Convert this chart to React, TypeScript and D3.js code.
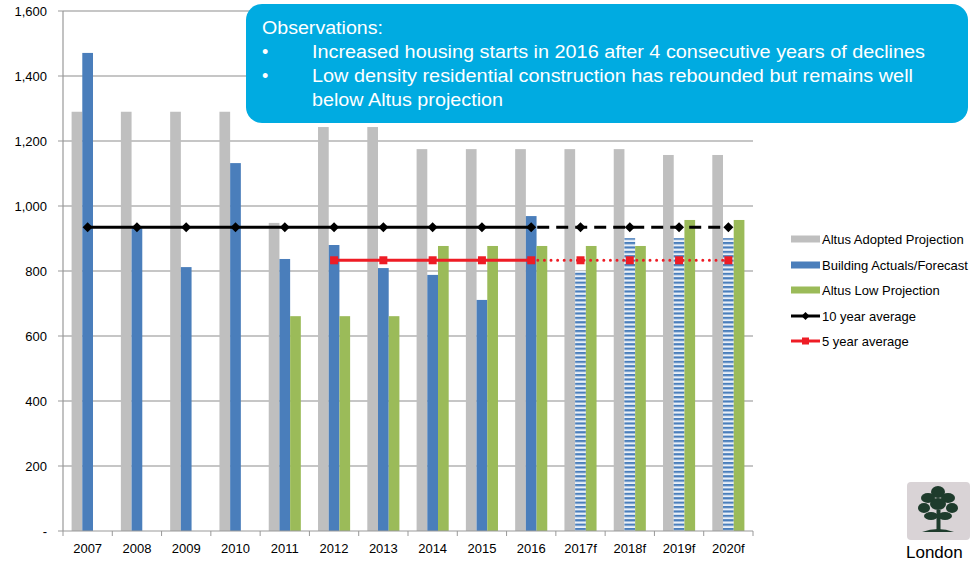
import React from "react";
import * as d3 from "d3";

const categories = ["2007","2008","2009","2010","2011","2012","2013","2014","2015","2016","2017f","2018f","2019f","2020f"];
const adopted = [1290,1290,1290,1290,948,1243,1243,1175,1175,1175,1175,1175,1157,1157];
const actuals = [1471,935,812,1132,837,880,809,788,711,969,800,901,901,901];
const forecastFlags = [false,false,false,false,false,false,false,false,false,false,true,true,true,true];
const lowProj = [null,null,null,null,661,661,661,877,877,877,877,877,957,957];
const tenYear = [935,935,935,935,935,935,935,935,935,935,935,935,935,935];
const fiveYear = [null,null,null,null,null,833,833,833,833,833,833,833,833,833];
const yTicks = [0,200,400,600,800,1000,1200,1400,1600];
const legendLabels = ["Altus Adopted Projection","Building Actuals/Forecast","Altus Low Projection","10 year average","5 year average"];
const obsTitle = "Observations:";
const obsLines = [
  "Increased housing starts in 2016 after 4 consecutive years of declines",
  "Low density residential construction has rebounded but remains well",
  "below Altus projection",
];
const logoText = "London";

const GRAY = "#BFBFBF";
const BLUE = "#4A7EBB";
const GREEN = "#9BBB59";
const RED = "#EE1C25";
const FONT = "'Liberation Sans', Arial, sans-serif";

export default function App() {
  const W = 973, H = 562;
  const x0 = 63, x1 = 753, yTop = 11, yBot = 531;
  const x = d3.scaleBand<string>().domain(categories).range([x0, x1]).paddingInner(0).paddingOuter(0);
  const y = d3.scaleLinear().domain([0, 1600]).range([yBot, yTop]);
  const bw = 10.7;
  const cx = (i: number) => (x(categories[i]) as number) + x.bandwidth() / 2;

  const lineGen = d3.line<[number, number]>().x(d => d[0]).y(d => d[1]);
  const tenPts: [number, number][] = tenYear.map((v, i) => [cx(i), y(v)]);
  const tenSolid = tenPts.slice(0, 10);
  const tenDash = tenPts.slice(9);
  const fivePts: [number, number][] = fiveYear
    .map((v, i) => (v == null ? null : [cx(i), y(v)] as [number, number]))
    .filter(Boolean) as [number, number][];
  const fiveSolid = fivePts.slice(0, 5);
  const fiveDot = fivePts.slice(4);

  const diamond = (px: number, py: number, r = 5) =>
    `M${px},${py - r}L${px + r},${py}L${px},${py + r}L${px - r},${py}Z`;

  const legX = 791, legY = [239, 265, 290, 316, 341];

  return (
    <svg width={W} height={H} style={{ position: "absolute", left: 0, top: 0, display: "block", background: "#fff" }}>
      <defs>
        <pattern id="stripes" width="6" height="4.4" patternUnits="userSpaceOnUse">
          <rect width="6" height="4.4" fill="#EAF0F8" />
          <rect y="0" width="6" height="2.2" fill={BLUE} />
        </pattern>
      </defs>
      {/* gridlines */}
      {yTicks.map(t => (
        <g key={t}>
          {t > 0 && <line x1={x0} x2={x1} y1={y(t)} y2={y(t)} stroke="#B3B3B3" strokeWidth={1.3} />}
          <line x1={x0 - 5} x2={x0} y1={y(t)} y2={y(t)} stroke="#999" strokeWidth={1} />
          <text x={47} y={y(t)} dy="0.35em" textAnchor="end" fontFamily={FONT} fontSize={13} fill="#000">
            {t === 0 ? "-" : d3.format(",")(t)}
          </text>
        </g>
      ))}
      {/* bars */}
      {categories.map((c, i) => {
        const c0 = cx(i);
        return (
          <g key={c}>
            <rect x={c0 - 1.5 * bw} y={y(adopted[i])} width={bw} height={yBot - y(adopted[i])} fill={GRAY} />
            <rect x={c0 - 0.5 * bw} y={y(actuals[i])} width={bw} height={yBot - y(actuals[i])}
              fill={forecastFlags[i] ? "url(#stripes)" : BLUE} />
            {lowProj[i] != null && (
              <rect x={c0 + 0.5 * bw} y={y(lowProj[i] as number)} width={bw} height={yBot - y(lowProj[i] as number)} fill={GREEN} />
            )}
          </g>
        );
      })}
      {/* axes */}
      <line x1={x0} x2={x0} y1={yTop} y2={yBot} stroke="#999" strokeWidth={1.2} />
      <line x1={x0} x2={x1} y1={yBot} y2={yBot} stroke="#999" strokeWidth={1.2} />
      {d3.range(categories.length + 1).map(i => {
        const xx = x0 + i * x.bandwidth();
        return <line key={i} x1={xx} x2={xx} y1={yBot} y2={yBot + 5} stroke="#999" strokeWidth={1} />;
      })}
      {categories.map((c, i) => (
        <text key={c} x={cx(i)} y={548} dy="0.35em" textAnchor="middle" fontFamily={FONT} fontSize={13} fill="#000">{c}</text>
      ))}
      {/* 10 year average */}
      <path d={lineGen(tenSolid) as string} fill="none" stroke="#000" strokeWidth={3} />
      <path d={lineGen(tenDash) as string} fill="none" stroke="#000" strokeWidth={3} strokeDasharray="12,7" strokeDashoffset={-6} />
      {tenPts.map((p, i) => <path key={i} d={diamond(p[0], p[1])} fill="#000" />)}
      {/* 5 year average */}
      <path d={lineGen(fiveSolid) as string} fill="none" stroke={RED} strokeWidth={3} />
      <path d={lineGen(fiveDot) as string} fill="none" stroke={RED} strokeWidth={3} strokeDasharray="0,6.6" strokeLinecap="round" />
      {fivePts.map((p, i) => <rect key={i} x={p[0] - 4} y={p[1] - 4} width={8} height={8} fill={RED} />)}
      {/* legend */}
      {[GRAY, BLUE, GREEN].map((col, i) => (
        <rect key={i} x={legX} y={legY[i] - 3.5} width={29} height={7} fill={col} />
      ))}
      <line x1={legX} x2={legX + 29} y1={legY[3]} y2={legY[3]} stroke="#000" strokeWidth={3} />
      <path d={diamond(legX + 14.5, legY[3], 4)} fill="#000" />
      <line x1={legX} x2={legX + 29} y1={legY[4]} y2={legY[4]} stroke={RED} strokeWidth={3} />
      <rect x={legX + 11} y={legY[4] - 3.5} width={7} height={7} fill={RED} />
      {legendLabels.map((l, i) => (
        <text key={l} x={legX + 31} y={legY[i]} dy="0.35em" fontFamily={FONT} fontSize={13} fill="#000">{l}</text>
      ))}
      {/* observations box */}
      <rect x={246} y={4} width={722} height={119} rx={16} ry={16} fill="#00ABE1" />
      <g fontFamily="'Liberation Sans Narrow', 'Arial Narrow', 'Liberation Sans', sans-serif" fill="#fff" fontSize={18}>
        <text x={262} y={34} textLength={121} lengthAdjust="spacingAndGlyphs">{obsTitle}</text>
        <text x={262} y={58}>•</text>
        <text x={262} y={82}>•</text>
        <text x={312} y={58} textLength={613} lengthAdjust="spacingAndGlyphs">{obsLines[0]}</text>
        <text x={312} y={82} textLength={601} lengthAdjust="spacingAndGlyphs">{obsLines[1]}</text>
        <text x={312} y={106} textLength={191} lengthAdjust="spacingAndGlyphs">{obsLines[2]}</text>
      </g>
      {/* logo */}
      <g>
        <rect x={907} y={482} width={63} height={58} rx={4} fill="#D9D3D6" />
        <rect x={936.5} y={510} width={4} height={22} fill="#1E3B2C" />
        <path d="M922,532 Q938,526 954,532 Z" fill="#1E3B2C" />
        {[[938,492,7,6],[928,498,7,5],[948,498,7,5],[924,508,6,5],[952,508,6,5],[931,516,7,4],[945,516,7,4],[938,504,8,6]].map((e, i) => (
          <ellipse key={i} cx={e[0]} cy={e[1]} rx={e[2]} ry={e[3]} fill="#1E3B2C" />
        ))}
        <text x={906} y={558} fontFamily={FONT} fontSize={17} fill="#000">{logoText}</text>
      </g>
    </svg>
  );
}
